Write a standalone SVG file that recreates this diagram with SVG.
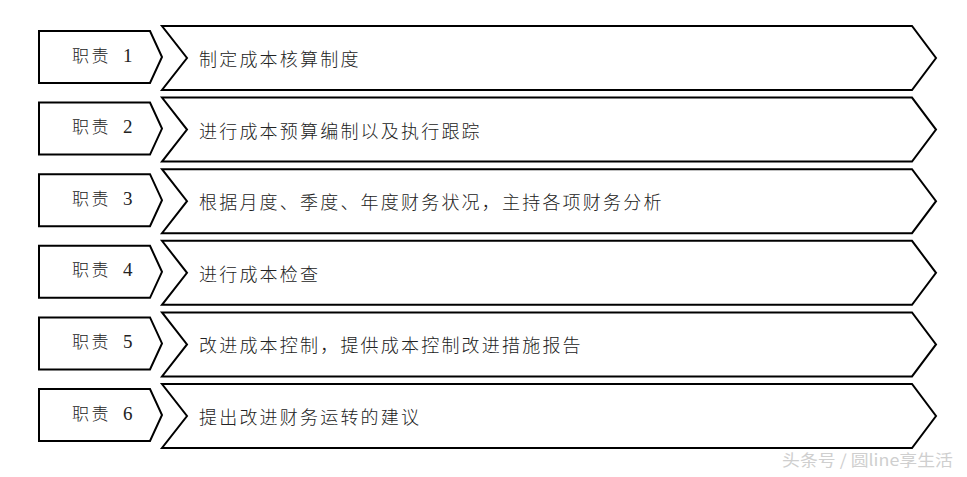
<svg xmlns="http://www.w3.org/2000/svg" width="967" height="477" viewBox="0 0 967 477">
<style>
.shape{fill:#fff;stroke:#000;stroke-width:2;stroke-linejoin:miter}
.lbl{font-family:"Noto Sans CJK SC","Noto Sans",sans-serif;font-size:17px;font-weight:300;fill:#222;letter-spacing:2.5px}
.num{font-family:"Liberation Serif",serif;font-size:19px;font-weight:400;letter-spacing:0}
.txt{font-family:"Noto Sans CJK SC","Noto Sans",sans-serif;font-size:18px;font-weight:300;fill:#222;letter-spacing:2.2px}
.wm{font-family:"Noto Sans CJK SC",sans-serif;font-size:16px;fill:#cfcfcf}
</style>
<defs>
<path id="box" class="shape" d="M39,5 L150,5 L162,31 L150,57 L39,57 Z"/>
<path id="chev" class="shape" d="M162,0 L912,0 L936,32 L912,64 L162,64 L187,32 Z"/>
</defs>
<rect width="967" height="477" fill="#fff"/>
<g id="row1" transform="translate(0,26)">
<use href="#chev"/><use href="#box"/>
<text class="lbl" x="72" y="35.5">职责<tspan class="num" x="123">1</tspan></text>
<text class="txt" x="199" y="40">制定成本核算制度</text>
</g>
<g id="row2" transform="translate(0,97.6)">
<use href="#chev"/><use href="#box"/>
<text class="lbl" x="72" y="35.5">职责<tspan class="num" x="123">2</tspan></text>
<text class="txt" x="199" y="40">进行成本预算编制以及执行跟踪</text>
</g>
<g id="row3" transform="translate(0,169.2)">
<use href="#chev"/><use href="#box"/>
<text class="lbl" x="72" y="35.5">职责<tspan class="num" x="123">3</tspan></text>
<text class="txt" x="199" y="40">根据月度、季度、年度财务状况，主持各项财务分析</text>
</g>
<g id="row4" transform="translate(0,240.8)">
<use href="#chev"/><use href="#box"/>
<text class="lbl" x="72" y="35.5">职责<tspan class="num" x="123">4</tspan></text>
<text class="txt" x="199" y="40">进行成本检查</text>
</g>
<g id="row5" transform="translate(0,312.4)">
<use href="#chev"/><use href="#box"/>
<text class="lbl" x="72" y="35.5">职责<tspan class="num" x="123">5</tspan></text>
<text class="txt" x="199" y="40">改进成本控制，提供成本控制改进措施报告</text>
</g>
<g id="row6" transform="translate(0,384)">
<use href="#chev"/><use href="#box"/>
<text class="lbl" x="72" y="35.5">职责<tspan class="num" x="123">6</tspan></text>
<text class="txt" x="199" y="40">提出改进财务运转的建议</text>
</g>
<g id="connectors"></g>
<text class="wm" x="782" y="466" textLength="171" lengthAdjust="spacingAndGlyphs">头条号 / 圆line享生活</text>
</svg>
